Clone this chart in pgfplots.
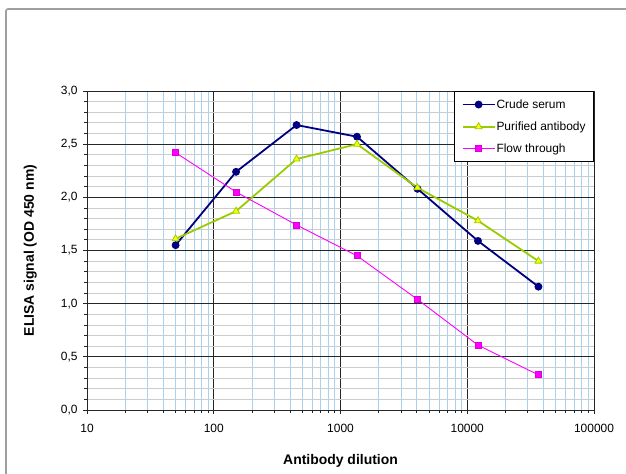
\documentclass[border=0pt]{standalone}
\usepackage{pgfplots}
\pgfplotsset{compat=1.18}
\usepackage{fontspec}
\setmainfont{Liberation Sans}

\definecolor{crude}{HTML}{000080}
\definecolor{purline}{HTML}{99CC00}
\definecolor{purfill}{HTML}{FFFF00}
\definecolor{flow}{HTML}{FF00FF}
\definecolor{minorx}{HTML}{A8D2F2}
\definecolor{minory}{HTML}{CCCCCC}

\begin{document}
\begin{tikzpicture}
\useasboundingbox (0bp,0bp) rectangle (626bp,474bp);
% outer frame of the chart area
\draw[gray!75, line width=1.6bp, rounded corners=2bp] (6bp,-10bp) -- (6bp,465bp) -- (640bp,465bp);
\begin{axis}[
    at={(87bp,64bp)}, anchor=south west,
    scale only axis,
    width=507bp, height=319bp,
    xmode=log,
    xmin=10, xmax=100000,
    ymin=0, ymax=3,
    xtick={10,100,1000,10000,100000},
    xticklabels={10,100,1000,10000,100000},
    ytick={0,0.5,...,3},
    minor y tick num=4,
    /pgf/number format/assume math mode=true,
    ticklabel style={font=\fontsize{12}{14}\selectfont},
    xticklabel style={yshift=-7bp},
    yticklabel style={xshift=-2bp, /pgf/number format/.cd, fixed, fixed zerofill, precision=1, use comma},
    axis lines=left,
    axis line style={-, black!85, line width=0.9bp},
    tick align=outside,
    major tick length=4bp,
    minor tick length=3bp,
    tick style={black!85, line width=0.8bp},
    xmajorgrids, ymajorgrids, xminorgrids, yminorgrids,
    major grid style={black!85, line width=0.9bp},
    minor x grid style={minorx, line width=0.8bp},
    minor y grid style={minory, line width=0.8bp},
    xlabel={Antibody dilution},
    ylabel={ELISA signal (OD 450 nm)},
    every axis x label/.style={at={(axis description cs:0.5,-0.160)}, anchor=center,
        font=\fontsize{14}{16}\selectfont\bfseries},
    every axis y label/.style={at={(axis description cs:-0.112,0.5)}, rotate=90, anchor=center,
        font=\fontsize{14}{16}\selectfont\bfseries},
    legend style={at={(rel axis cs:1,1)}, anchor=north east,
        draw=black, line width=0.9bp, fill=white,
        font=\fontsize{12}{14}\selectfont,
        nodes={inner xsep=1bp, inner ysep=2bp},
        row sep=8bp, inner ysep=6bp, inner xsep=7bp,
        cells={anchor=west}},
    legend image code/.code={%
        \draw[mark repeat=2, mark phase=2] plot coordinates {(0bp,0bp) (16bp,0bp) (32bp,0bp)};},
    clip=false,
]
\addplot[crude, line width=1.8bp, mark=*, mark size=3bp, mark options={fill=crude}]
coordinates {(50,1.55) (150,2.24) (450,2.68) (1350,2.57) (4050,2.08) (12150,1.59) (36450,1.16)};
\addplot[purline, line width=1.8bp, mark=triangle*, mark size=4bp, mark options={fill=purfill, draw=purline, line width=0.8bp}]
coordinates {(50,1.61) (150,1.87) (450,2.36) (1350,2.50) (4050,2.09) (12150,1.78) (36450,1.40)};
\addplot[flow, line width=0.9bp, mark=square*, mark size=3bp, mark options={fill=flow, draw=flow!85!black}]
coordinates {(50,2.42) (150,2.05) (450,1.74) (1350,1.45) (4050,1.04) (12150,0.61) (36450,0.33)};
\legend{Crude serum, Purified antibody, Flow through}
\end{axis}
\end{tikzpicture}
\end{document}
